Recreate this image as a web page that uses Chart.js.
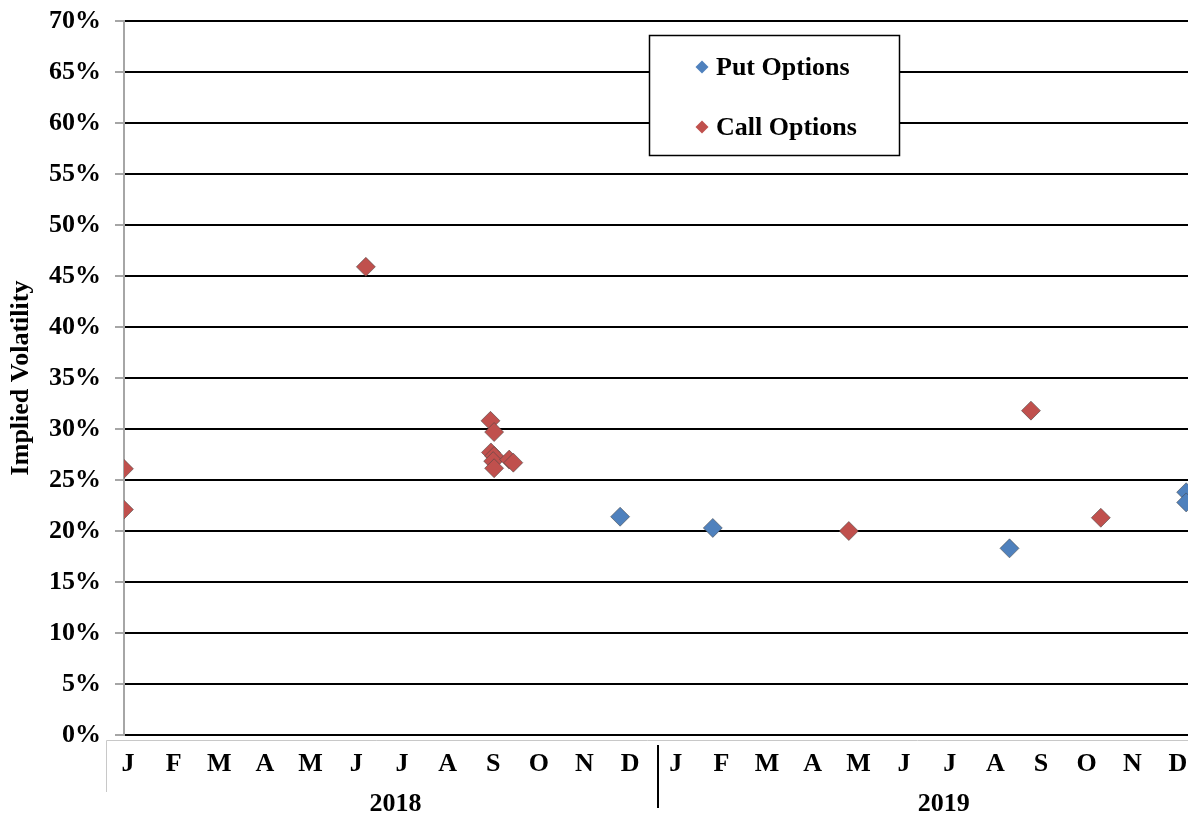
<!DOCTYPE html>
<html>
<head>
<meta charset="utf-8">
<script src="https://cdn.jsdelivr.net/npm/chart.js@4/dist/chart.umd.min.js"></script>
<style>
  html, body { margin: 0; padding: 0; background: #ffffff; }
  #wrap { width: 1188px; height: 816px; }
</style>
</head>
<body>
<div id="wrap"><canvas id="c" width="1188" height="816"></canvas></div>
<script>
// Month initials along the time axis, two years side by side
const months = ['J', 'F', 'M', 'A', 'M', 'J', 'J', 'A', 'S', 'O', 'N', 'D'];
const years = ['2018', '2019'];

// Implied volatility (%) vs. time in months (0 = January 2018)
const putMonth = [10.78, 12.81, 19.31, 23.18, 23.18];
const putVol   = [21.4, 20.3, 18.3, 23.8, 22.8];

const callMonth = [-0.09, -0.09, 5.21, 7.94, 8.02, 7.95, 8.02, 8.00, 8.02, 8.35, 8.44, 15.79, 19.78, 21.31];
const callVol   = [26.1, 22.1, 45.9, 30.8, 29.7, 27.7, 27.35, 26.85, 26.15, 27.0, 26.7, 20.0, 31.8, 21.3];

const yTicks = [0, 5, 10, 15, 20, 25, 30, 35, 40, 45, 50, 55, 60, 65, 70];

const FONT = 'bold 26px "Liberation Serif", "Times New Roman", serif';

function toPoints(xs, ys) {
  return xs.map((x, i) => ({ x: x, y: ys[i] }));
}

function zeroPadding(scale) {
  scale.paddingTop = 0;
  scale.paddingBottom = 0;
  scale.paddingLeft = 0;
  scale.paddingRight = 0;
}

// Month letters, boxed label strip, year divider and year captions under the plot
const timeAxisPlugin = {
  id: 'timeAxis',
  afterDraw(chart) {
    const ctx = chart.ctx;
    const xs = chart.scales.x;
    ctx.save();
    // light strip outline
    ctx.strokeStyle = '#c8c8c8';
    ctx.lineWidth = 1;
    ctx.beginPath();
    ctx.moveTo(106.5, 792);
    ctx.lineTo(106.5, 740.5);
    ctx.lineTo(chart.width, 740.5);
    ctx.stroke();

    ctx.font = FONT;
    ctx.fillStyle = '#000000';
    ctx.textAlign = 'center';
    ctx.textBaseline = 'middle';
    years.forEach((yr, yi) => {
      months.forEach((m, mi) => {
        const px = xs.getPixelForValue(yi * 12 + mi);
        ctx.fillText(m, px, 764);
      });
    });
    // year captions
    ctx.fillText(years[0], xs.getPixelForValue(5.86), 804);
    ctx.fillText(years[1], xs.getPixelForValue(17.87), 804);

    // divider between the years
    const dx = Math.round(xs.getPixelForValue(11.62));
    ctx.strokeStyle = '#000000';
    ctx.lineWidth = 2;
    ctx.beginPath();
    ctx.moveTo(dx, 745);
    ctx.lineTo(dx, 808);
    ctx.stroke();
    ctx.restore();
  }
};

// Framed legend inside the plot
const boxLegendPlugin = {
  id: 'boxLegend',
  afterDraw(chart) {
    const ctx = chart.ctx;
    const bx = 649, by = 35, bw = 250, bh = 120;
    ctx.save();
    ctx.fillStyle = '#ffffff';
    ctx.fillRect(bx, by, bw, bh);
    ctx.strokeStyle = '#000000';
    ctx.lineWidth = 1.5;
    ctx.strokeRect(bx + 0.5, by + 0.5, bw, bh);
    ctx.font = FONT;
    ctx.textAlign = 'left';
    ctx.textBaseline = 'middle';
    chart.data.datasets.forEach((ds, i) => {
      const cy = 67 + i * 60;
      const cx = 702;
      const r = 6.5;
      ctx.fillStyle = ds.backgroundColor;
      ctx.beginPath();
      ctx.moveTo(cx, cy - r);
      ctx.lineTo(cx + r, cy);
      ctx.lineTo(cx, cy + r);
      ctx.lineTo(cx - r, cy);
      ctx.closePath();
      ctx.fill();
      ctx.fillStyle = '#000000';
      ctx.fillText(ds.label, 716, cy + 1);
    });
    ctx.restore();
  }
};

new Chart(document.getElementById('c'), {
  type: 'scatter',
  data: {
    datasets: [
      {
        label: 'Put Options',
        data: toPoints(putMonth, putVol),
        backgroundColor: '#4F81BD',
        borderColor: 'rgba(70,70,70,0.55)',
        borderWidth: 1,
        pointStyle: 'rectRot',
        pointRadius: 9.5,
        pointHoverRadius: 9.5
      },
      {
        label: 'Call Options',
        data: toPoints(callMonth, callVol),
        backgroundColor: '#C0504D',
        borderColor: 'rgba(70,70,70,0.55)',
        borderWidth: 1,
        pointStyle: 'rectRot',
        pointRadius: 9.5,
        pointHoverRadius: 9.5
      }
    ]
  },
  options: {
    responsive: false,
    animation: false,
    layout: { autoPadding: false, padding: { top: 21, right: 0, bottom: 81, left: 0 } },
    plugins: {
      legend: { display: false },
      tooltip: { enabled: false }
    },
    scales: {
      x: {
        type: 'linear',
        display: false,
        min: -0.088,
        max: 23.22,
        afterFit: zeroPadding
      },
      y: {
        type: 'linear',
        min: 0,
        max: 70,
        afterBuildTicks(scale) {
          scale.ticks = yTicks.map(v => ({ value: v }));
        },
        afterFit(scale) {
          scale.width = 124;
          zeroPadding(scale);
        },
        ticks: {
          color: '#000000',
          padding: 14,
          font: { family: '"Liberation Serif", "Times New Roman", serif', size: 26, weight: 'bold' },
          callback: v => v + '%'
        },
        grid: {
          color: '#000000',
          lineWidth: 2,
          tickColor: '#a6a6a6',
          tickLength: 9
        },
        border: { color: '#a6a6a6', width: 2 },
        title: {
          display: true,
          text: 'Implied Volatility',
          color: '#000000',
          font: { family: '"Liberation Serif", "Times New Roman", serif', size: 26, weight: 'bold' },
          padding: { top: 6, bottom: 0 }
        }
      }
    }
  },
  plugins: [timeAxisPlugin, boxLegendPlugin]
});
</script>
</body>
</html>
